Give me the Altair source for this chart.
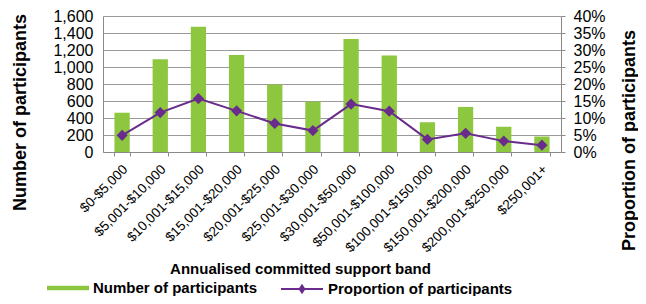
import altair as alt
import pandas as pd

bands = ["$0-$5,000", "$5,001-$10,000", "$10,001-$15,000", "$15,001-$20,000",
         "$20,001-$25,000", "$25,001-$30,000", "$30,001-$50,000", "$50,001-$100,000",
         "$100,001-$150,000", "$150,001-$200,000", "$200,001-$250,000", "$250,001+"]
counts = [462, 1090, 1475, 1140, 795, 592, 1330, 1135, 350, 530, 297, 182]
proportions = [0.049, 0.116, 0.157, 0.121, 0.084, 0.063, 0.141, 0.120, 0.037, 0.055, 0.032, 0.020]
series = ["Number of participants", "Proportion of participants"]

df = pd.DataFrame({"band": bands, "count": counts, "prop": proportions})

GREEN = "#8DC63F"
PURPLE = "#6A2C8C"
FONT = "Liberation Sans"

x_enc = alt.X("band:N", sort=bands,
              scale=alt.Scale(paddingInner=0.6, paddingOuter=0.3),
              axis=alt.Axis(title="Annualised committed support band", labelAngle=-45,
                            labelFontSize=13.5, labelOffset=-2, tickBand="extent",
                            tickSize=4, labelPadding=6,
                            titleX=197, titleY=109, titleBaseline="top",
                            titleFontSize=15, titleFontWeight="bold"))

base = alt.Chart(df)

bars = base.transform_calculate(s1=f"'{series[0]}'").mark_bar(color=GREEN).encode(
    x=x_enc,
    y=alt.Y("count:Q", scale=alt.Scale(domain=[0, 1600], nice=False),
            axis=alt.Axis(title="Number of participants", values=list(range(0, 1601, 200)),
                          format=",d", labelFontSize=16, grid=True, ticks=False,
                          labelPadding=10,
                          titleAngle=270, titleBaseline="top", titleX=-92, titleY=96,
                          titleFontSize=18, titleFontWeight="bold")),
    fill=alt.Fill("s1:N",
                  scale=alt.Scale(domain=[series[0]], range=[GREEN]),
                  legend=alt.Legend(title=None, orient="none", legendX=-56, legendY=251,
                                    symbolType="M-1,-0.11H1V0.11H-1Z", symbolSize=1764,
                                    symbolStrokeWidth=0, padding=0, labelLimit=0,
                                    labelFontSize=15, labelFontWeight="bold", labelColor="black")),
)

line = base.transform_calculate(s2=f"'{series[1]}'").mark_line(
    color=PURPLE, strokeWidth=2,
    point=alt.OverlayMarkDef(shape="diamond", filled=True, size=70, color=PURPLE)).encode(
    x=x_enc,
    y=alt.Y("prop:Q", scale=alt.Scale(domain=[0, 0.4], nice=False),
            axis=alt.Axis(title="Proportion of participants", orient="right",
                          values=[i * 0.05 for i in range(9)], format=".0%",
                          labelFontSize=16, grid=False, tickSize=4, labelPadding=8,
                          titleAngle=270, titleBaseline="top", titleX=59, titleY=124,
                          titleFontSize=18, titleFontWeight="bold")),
    stroke=alt.Stroke("s2:N",
                      scale=alt.Scale(domain=[series[1]], range=[PURPLE]),
                      legend=alt.Legend(title=None, orient="none", legendX=177, legendY=251,
                                        symbolType="M-1,0H1M0,-0.16L0.11,0L0,0.16L-0.11,0Z",
                                        symbolSize=1764, symbolStrokeWidth=2,
                                        symbolStrokeColor=PURPLE, symbolFillColor=PURPLE,
                                        padding=0, labelLimit=0,
                                        labelFontSize=15, labelFontWeight="bold", labelColor="black")),
)

chart = alt.layer(bars, line).resolve_scale(y="independent").properties(
    width=458, height=136,
    autosize=alt.AutoSizeParams(type="none"),
    padding={"left": 95, "top": 8, "right": 77, "bottom": 144},
).configure(font=FONT).configure_axis(
    labelColor="black", titleColor="black", domainColor="#8a8a8a", tickColor="#8a8a8a",
    gridColor="#9a9a9a", labelFont=FONT, titleFont=FONT,
).configure_view(stroke=None)

chart.save("out.html", embed_options={"renderer": "svg", "actions": False})
